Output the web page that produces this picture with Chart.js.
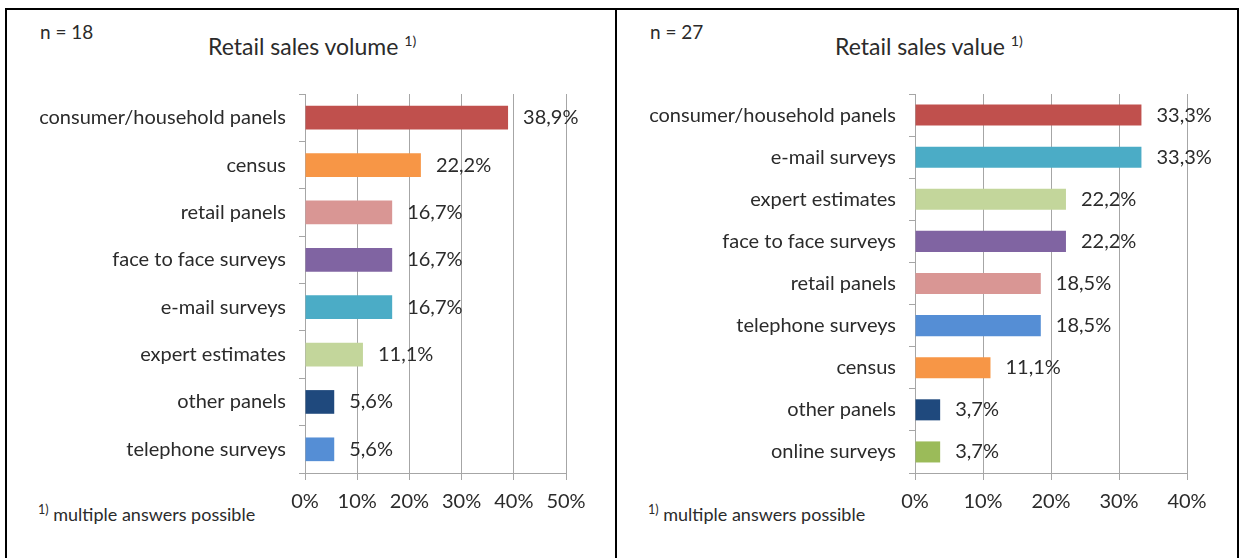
<!DOCTYPE html>
<html>
<head>
<meta charset="utf-8">
<script src="https://cdn.jsdelivr.net/npm/chart.js@4.4.1/dist/chart.umd.min.js"></script>
<style>
  body { margin: 0; background: #fff; width: 1240px; height: 558px; overflow: hidden; position: relative; font-family: Lato, 'Open Sans', sans-serif; color: #2b2b2b; }
  .frame { position: absolute; left: 5px; top: 8px; width: 1230px; height: 560px; border: 2px solid #000; border-bottom: none; }
  .divider { position: absolute; left: 615px; top: 8px; width: 2px; height: 560px; background: #000; }
  canvas { position: absolute; }
  .n { position: absolute; font-size: 19px; top: 20px; }
  .title { position: absolute; font-size: 23px; top: 32px; }
  .title sup { font-size: 62%; }
  .note sup { font-size: 70%; }
  .note { position: absolute; font-size: 18px; top: 502px; }
</style>
</head>
<body>
<div class="frame"></div>
<div class="divider"></div>

<div class="n" style="left:40px">n = 18</div>
<div class="title" style="left:208px">Retail sales volume <sup>1)</sup></div>
<div class="note" style="left:38px"><sup>1)</sup> multiple answers possible</div>
<canvas id="volume" width="608" height="549" style="left:7px;top:9px"></canvas>

<div class="n" style="left:650px">n = 27</div>
<div class="title" style="left:835px">Retail sales value <sup>1)</sup></div>
<div class="note" style="left:648px"><sup>1)</sup> multiple answers possible</div>
<canvas id="value" width="618" height="549" style="left:617px;top:9px"></canvas>

<script>
// Retail sales volume (n = 18)
const volumeLabels = ['consumer/household panels', 'census', 'retail panels', 'face to face surveys', 'e-mail surveys', 'expert estimates', 'other panels', 'telephone surveys'];
const volumeValues = [38.9, 22.2, 16.7, 16.7, 16.7, 11.1, 5.6, 5.6];
const volumeColors = ['#C0504D', '#F79646', '#D99694', '#8064A2', '#4BACC6', '#C3D69B', '#1F497D', '#558ED5'];
const volumeMax = 50;

// Retail sales value (n = 27)
const valueLabels = ['consumer/household panels', 'e-mail surveys', 'expert estimates', 'face to face surveys', 'retail panels', 'telephone surveys', 'census', 'other panels', 'online surveys'];
const valueValues = [33.3, 33.3, 22.2, 22.2, 18.5, 18.5, 11.1, 3.7, 3.7];
const valueColors = ['#C0504D', '#4BACC6', '#C3D69B', '#8064A2', '#D99694', '#558ED5', '#F79646', '#1F497D', '#9BBB59'];
const valueMax = 40;

const fonte = { family: "Lato, 'Open Sans', sans-serif", size: 20 };
const corTexto = '#2b2b2b';
const corGrade = '#A6A6A6';

// percent labels next to each bar, with decimal comma
const rotulos = {
  id: 'rotulos',
  afterDatasetsDraw(chart) {
    const ctx = chart.ctx;
    const meta = chart.getDatasetMeta(0);
    const dados = chart.data.datasets[0].data;
    ctx.save();
    ctx.font = fonte.size + 'px ' + fonte.family;
    ctx.fillStyle = corTexto;
    ctx.textAlign = 'left';
    ctx.textBaseline = 'middle';
    meta.data.forEach((bar, i) => {
      ctx.fillText(dados[i].toFixed(1).replace('.', ',') + '%', bar.x + 15, bar.y);
    });
    ctx.restore();
  }
};

function criarGrafico(id, labels, values, colors, max, padDireita) {
  return new Chart(document.getElementById(id).getContext('2d'), {
    type: 'bar',
    data: {
      labels: labels,
      datasets: [{
        data: values,
        backgroundColor: colors,
        categoryPercentage: 1,
        barPercentage: 0.5,
      }],
    },
    options: {
      indexAxis: 'y',
      responsive: false,
      animation: false,
      layout: { padding: { top: 85, right: padDireita, left: 0, bottom: 45 } },
      plugins: {
        legend: { display: false },
        tooltip: { enabled: false },
      },
      scales: {
        x: {
          min: 0,
          max: max,
          afterFit: (s) => { s.height = 40; },
          ticks: { stepSize: 10, color: corTexto, font: fonte, padding: 10, callback: (v) => v + '%' },
          grid: { color: corGrade, tickLength: 7 },
          border: { color: corGrade },
        },
        y: {
          afterFit: (s) => { s.width = 298; },
          ticks: { color: corTexto, font: fonte, padding: 13 },
          grid: { drawOnChartArea: false, color: corGrade, tickLength: 6 },
          border: { color: corGrade },
        },
      },
    },
    plugins: [rotulos],
  });
}

criarGrafico('volume', volumeLabels, volumeValues, volumeColors, volumeMax, 49);
criarGrafico('value', valueLabels, valueValues, valueColors, valueMax, 48);
</script>
</body>
</html>
